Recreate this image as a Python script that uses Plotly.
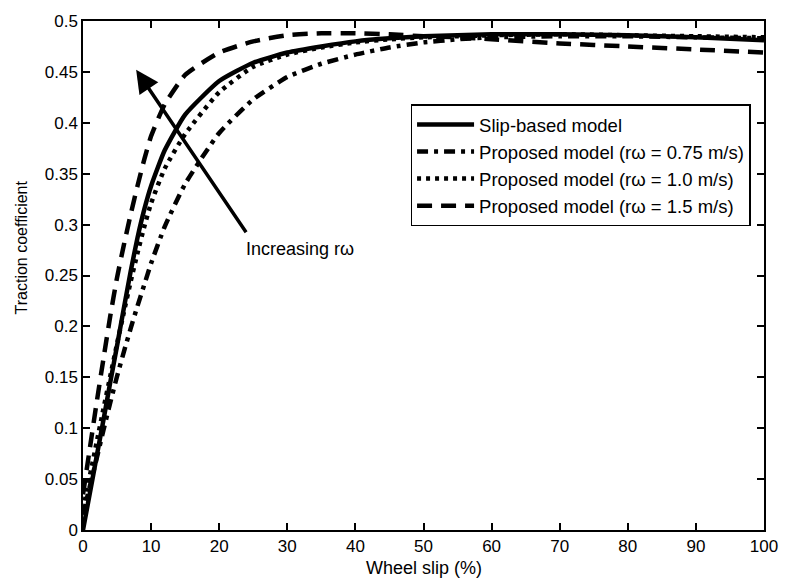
import plotly.graph_objects as go

slip = [0, 1, 2, 3, 4, 5, 6, 7, 8, 9, 10, 12, 15, 20, 25, 30, 35, 40, 45, 50, 55, 60, 70, 80, 90, 100]

slip_based = [0, 0.036, 0.072, 0.108, 0.145, 0.181, 0.218, 0.254, 0.287, 0.315, 0.338, 0.373, 0.408, 0.441, 0.459, 0.469, 0.475, 0.480, 0.483, 0.485, 0.486, 0.487, 0.487, 0.486, 0.484, 0.481]
prop_075 = [0.015, 0.043, 0.07, 0.098, 0.125, 0.151, 0.175, 0.198, 0.22, 0.241, 0.262, 0.298, 0.34, 0.39, 0.423, 0.445, 0.458, 0.467, 0.474, 0.479, 0.482, 0.484, 0.485, 0.485, 0.484, 0.483]
prop_10 = [0.02, 0.053, 0.086, 0.119, 0.151, 0.183, 0.214, 0.244, 0.272, 0.298, 0.321, 0.355, 0.389, 0.43, 0.455, 0.467, 0.474, 0.479, 0.482, 0.484, 0.485, 0.486, 0.487, 0.486, 0.485, 0.484]
prop_15 = [0.035, 0.08, 0.125, 0.168, 0.21, 0.248, 0.28, 0.31, 0.338, 0.364, 0.387, 0.418, 0.447, 0.469, 0.48, 0.486, 0.488, 0.488, 0.487, 0.485, 0.484, 0.482, 0.478, 0.475, 0.472, 0.469]

names = ["Slip-based model",
         "Proposed model (rω = 0.75 m/s)",
         "Proposed model (rω = 1.0 m/s)",
         "Proposed model (rω = 1.5 m/s)"]

x_title = "Wheel slip (%)"
y_title = "Traction coefficient"
arrow_label = "Increasing rω"

font_family = "Liberation Sans, Arial, sans-serif"

fig = go.Figure()
series = [slip_based, prop_075, prop_10, prop_15]
dashes = ["solid", "11px,6px,4px,6px", "4px,5px", "15px,9px"]
for ys, nm, ds in zip(series, names, dashes):
    fig.add_trace(go.Scatter(x=slip, y=ys, name=nm, mode="lines",
                             line=dict(color="black", width=4.5, dash=ds, shape="spline", smoothing=0.5)))

fig.add_annotation(x=7.8, y=0.452, ax=24.1, ay=0.291, xref="x", yref="y", axref="x", ayref="y",
                   showarrow=True, arrowhead=2, arrowwidth=3.5, arrowsize=1.3, arrowcolor="black", text="")
fig.add_annotation(x=23.6, y=0.276, xref="x", yref="y", xanchor="left", yanchor="middle",
                   text=arrow_label, showarrow=False,
                   font=dict(family=font_family, size=18, color="black"))

# axis titles
fig.add_annotation(x=0.5, y=-0.074, xref="paper", yref="paper", xanchor="center", yanchor="middle",
                   text=x_title, showarrow=False, font=dict(family=font_family, size=18, color="black"))
fig.add_annotation(x=-0.0889, y=0.556, xref="paper", yref="paper", xanchor="center", yanchor="middle",
                   text=y_title, textangle=-90, showarrow=False,
                   font=dict(family=font_family, size=16, color="black"))

axis_common = dict(showline=True, linecolor="black", linewidth=1.5, mirror="ticks",
                   ticks="inside", ticklen=7, tickwidth=1.5, tickcolor="black",
                   showgrid=False, zeroline=False,
                   tickfont=dict(family=font_family, size=17, color="black"))

fig.update_layout(
    width=790, height=585,
    margin=dict(l=83, r=21, t=15, b=55),
    plot_bgcolor="white", paper_bgcolor="white",
    showlegend=True,
    legend=dict(x=0.481, y=0.836, xanchor="left", yanchor="top",
                bordercolor="black", borderwidth=1.5, bgcolor="white",
                font=dict(family=font_family, size=18.5, color="black"),
                tracegroupgap=0, itemwidth=57),
    xaxis=dict(range=[0, 100], dtick=10, **axis_common),
    yaxis=dict(range=[0, 0.5], dtick=0.05, **axis_common),
)

fig.write_html("out.html")
